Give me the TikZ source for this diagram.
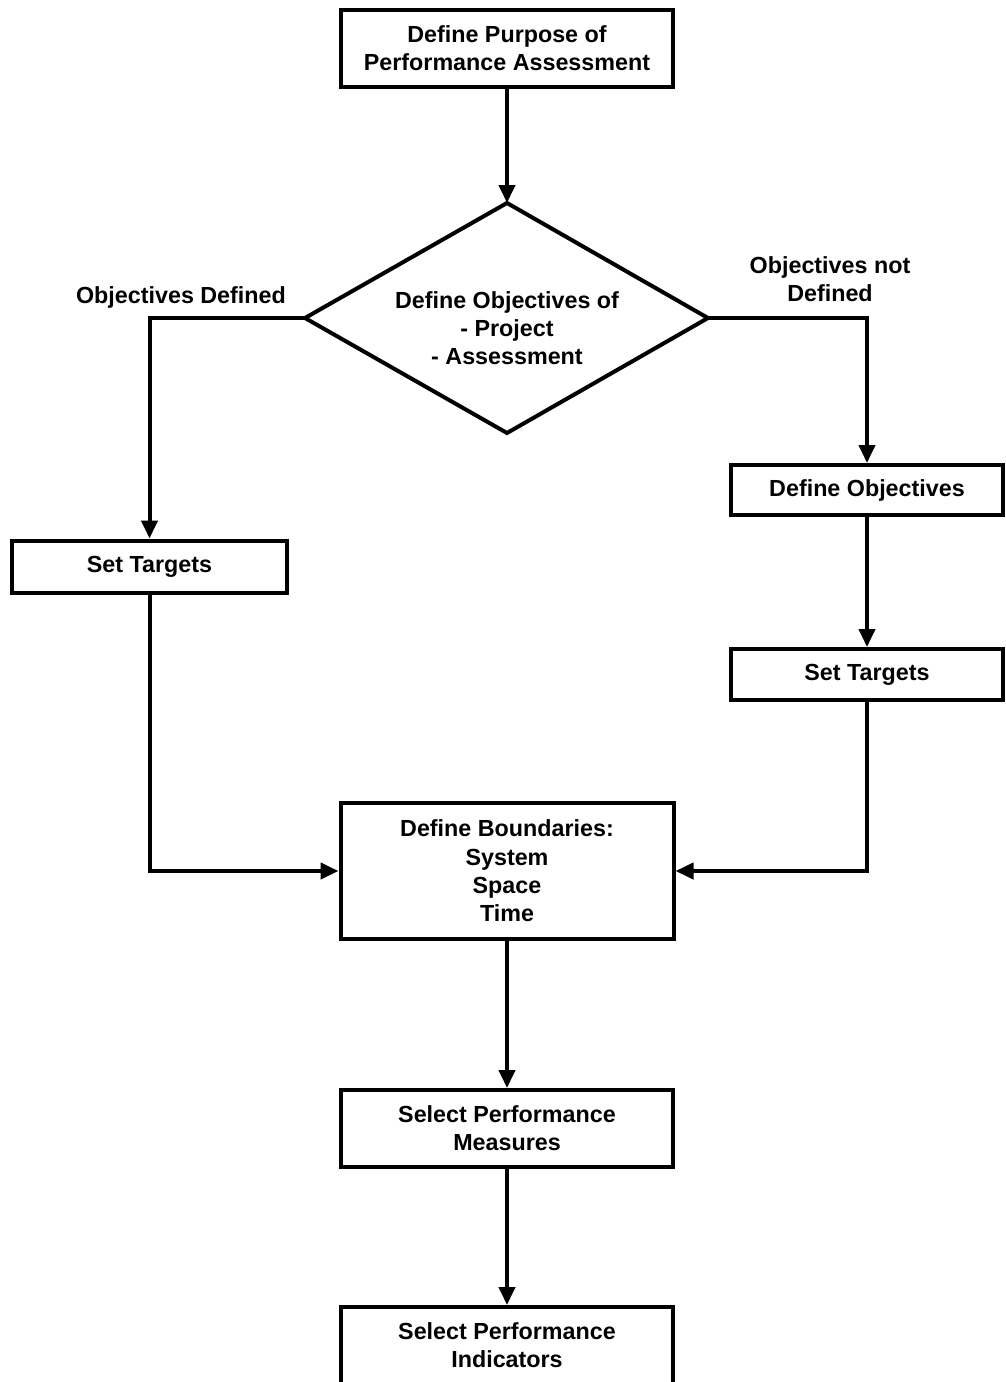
\documentclass[tikz,border=0pt]{standalone}
\usepackage{fontspec}
\setmainfont{Liberation Sans}
\usetikzlibrary{arrows.meta}
\begin{document}
\begin{tikzpicture}[x=1pt,y=-1pt,
  txt/.style={font=\fontsize{23.3}{28.3}\selectfont\bfseries, align=center, inner sep=0pt},
  box/.style={txt, draw, line width=4pt, rectangle},
  line/.style={line width=4pt},
  conn/.style={line width=4pt, -{Triangle[length=18pt,width=16pt]}}]
\clip (0,0) rectangle (1005,1382);
\fill[white] (0,0) rectangle (1005,1382);
% nodes
\node[box, minimum width=332pt, minimum height=77pt] (purp) at (507,48.5) {Define Purpose of\\Performance Assessment};
\coordinate (dt) at (507,203);
\coordinate (dl) at (305,318);
\coordinate (dr) at (708,318);
\coordinate (db) at (507,433);
\draw[line] (dt) -- (dr) -- (db) -- (dl) -- cycle;
\node[txt] (dtext) at (507,328) {Define Objectives of\\- Project\\- Assessment};
\node[txt] (lblL) at (181,297) {Objectives Defined};
\node[txt] (lblR) at (830,279) {Objectives not\\Defined};
\node[box, minimum width=275pt, minimum height=52pt] (stl) at (149.5,566.5) {Set Targets};
\node[box, minimum width=272pt, minimum height=50pt] (dob) at (867,490) {Define Objectives};
\node[box, minimum width=272pt, minimum height=51pt] (str) at (867,674.5) {Set Targets};
\node[box, minimum width=333pt, minimum height=136pt] (bnd) at (507,871) {Define Boundaries:\\System\\Space\\Time};
\node[box, minimum width=332pt, minimum height=77pt] (spm) at (507,1128.5) {Select Performance\\Measures};
\node[box, minimum width=332pt, minimum height=77pt] (spi) at (507,1345.5) {Select Performance\\Indicators};
% connectors
\draw[conn] (purp.south) -- (dt);
\draw[conn] (dl) -| (stl.north);
\draw[conn] (dr) -| (dob.north);
\draw[conn] (dob) -- (str);
\draw[conn] (stl.south) |- (bnd.west);
\draw[conn] (str.south) |- (bnd.east);
\draw[conn] (bnd) -- (spm);
\draw[conn] (spm) -- (spi);
\end{tikzpicture}
\end{document}
